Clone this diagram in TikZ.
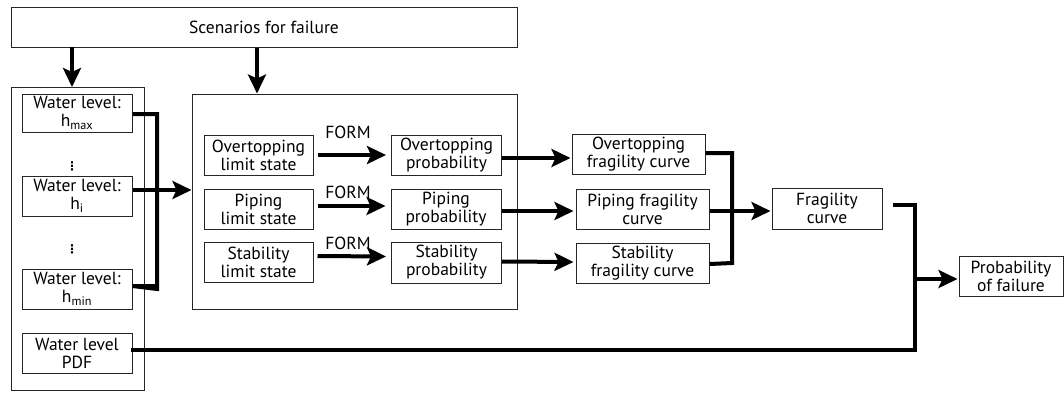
\documentclass[tikz,border=0pt]{standalone}
\usepackage{fontspec}
\setmainfont{PT Sans}
\newfontfamily\dejavu{DejaVu Sans}
\usetikzlibrary{arrows.meta}
\tikzset{
  box/.style={draw=black!85, line width=1pt, fill=white, align=center, inner sep=0pt,
    font=\fontsize{17.5}{18}\selectfont, text=black},
  frame/.style={draw=black!85, line width=1pt},
  conn/.style={line width=4pt, black},
  arr/.style={conn, -{Stealth[length=19pt,width=18pt,inset=4pt]}},
  lbl/.style={font=\fontsize{17.5}{18}\selectfont, inner sep=0pt},
  dots/.style={font=\dejavu\bfseries\fontsize{12}{12}\selectfont, inner sep=0pt},
}
\begin{document}
\begin{tikzpicture}[x=1pt,y=-1pt]
\useasboundingbox (0,0) rectangle (1064,392);
% frames
\node[box, minimum width=506pt, minimum height=40pt] (top) at (264,27) {Scenarios for failure};
\node[frame, minimum width=133pt, minimum height=303pt, inner sep=0pt] (outer) at (77.5,238.5) {};
\node[frame, minimum width=325pt, minimum height=215pt, inner sep=0pt] (inner) at (354.5,201.5) {};
% water levels
\node[box, minimum width=110pt, minimum height=38pt] (wl1) at (77,113) {Water level:\\h\textsubscript{max}};
\node[box, minimum width=110pt, minimum height=40pt] (wl2) at (77,196) {Water level:\\h\textsubscript{i}};
\node[box, minimum width=110pt, minimum height=40pt] (wl3) at (77,289) {Water level:\\h\textsubscript{min}};
\node[box, minimum width=110pt, minimum height=40pt] (pdf) at (77,353) {Water level\\PDF};
\node[dots] (d1) at (72,166) {⋮};
\node[dots] (d2) at (72,249) {⋮};
% limit states
\node[box, minimum width=109pt, minimum height=40pt] (ols) at (258.5,155) {Overtopping\\limit state};
\node[box, minimum width=109pt, minimum height=40pt] (pls) at (258.5,209) {Piping\\limit state};
\node[box, minimum width=109pt, minimum height=40pt] (sls) at (258.5,262) {Stability\\limit state};
% probabilities
\node[box, minimum width=110pt, minimum height=40pt] (op) at (446.5,155) {Overtopping\\probability};
\node[box, minimum width=110pt, minimum height=40pt] (pp) at (446,209) {Piping\\probability};
\node[box, minimum width=110pt, minimum height=41pt] (sp) at (446.5,262.5) {Stability\\probability};
% fragility curves
\node[box, minimum width=133pt, minimum height=40pt] (ofc) at (638.5,154) {Overtopping\\fragility curve};
\node[box, minimum width=133pt, minimum height=40pt] (pfc) at (642.5,209) {Piping fragility\\curve};
\node[box, minimum width=133pt, minimum height=40pt] (sfc) at (642.5,263) {Stability\\fragility curve};
\node[box, minimum width=110pt, minimum height=41pt] (fc) at (827,208.5) {Fragility\\curve};
\node[box, minimum width=104pt, minimum height=40pt] (pof) at (1011,276) {Probability\\of failure};
% FORM labels
\node[lbl] (f1) at (348,132) {FORM};
\node[lbl] (f2) at (348,192) {FORM};
\node[lbl] (f3) at (348,243) {FORM};
% coordinates
\coordinate (busw) at (157,0);
\coordinate (busf) at (732,0);
\coordinate (busp) at (915,0);
% scenario arrows
\draw[arr] (72,47) -- (72,87);
\draw[arr] (top.south -| 257,0) -- (inner.north -| 257,0);
% water level bus
\draw[conn] ([yshift=-1pt]wl1.east) -| (busw |- wl3.east) -- ([yshift=3pt]wl3.east);
\draw[conn] ([yshift=3pt]wl3.east) -- ([yshift=3pt]wl3.east -| busw);
\draw[arr] ([yshift=6pt]wl2.east) -- ([yshift=6pt]wl2.east -| inner.west);
% FORM arrows
\draw[arr, shorten <=4pt, shorten >=5pt] (ols.east) -- (op.west);
\draw[arr, shorten <=4pt, shorten >=5pt] ([yshift=3pt]pls.east) -- ([yshift=3pt]pp.west);
\draw[arr, shorten <=4pt, shorten >=5pt] ([yshift=6pt]sls.east) -- ([yshift=6pt]sp.west);
% prob to fragility
\draw[arr, shorten >=1pt] ([yshift=-3pt]op.east) -- ([yshift=-3pt]op.east -| ofc.west);
\draw[arr, shorten >=2pt] ([yshift=-2pt]pp.east) -- ([yshift=-2pt]pfc.west);
\draw[arr, shorten >=2pt] ([yshift=1pt]sp.east) -- ([yshift=1pt]sfc.west);
% fragility merge
\draw[conn] ([yshift=1pt]ofc.east) -| (busf |- sfc.east) -- ([yshift=-1pt]sfc.east);
\draw[arr, shorten >=1pt] ([yshift=-2pt]pfc.east) -- ([yshift=-2pt]pfc.east -| fc.west);
% to probability of failure
\draw[conn] ([xshift=10pt,yshift=3.5pt]fc.east) -- ([yshift=3.5pt]fc.east -| busp) -- (busp |- 0,350) -- ([xshift=-2pt]pdf.east |- 0,350);
\draw[arr, shorten >=1pt] ([yshift=-3pt]pof.west -| busp) -- ([yshift=-3pt]pof.west);
\end{tikzpicture}
\end{document}
